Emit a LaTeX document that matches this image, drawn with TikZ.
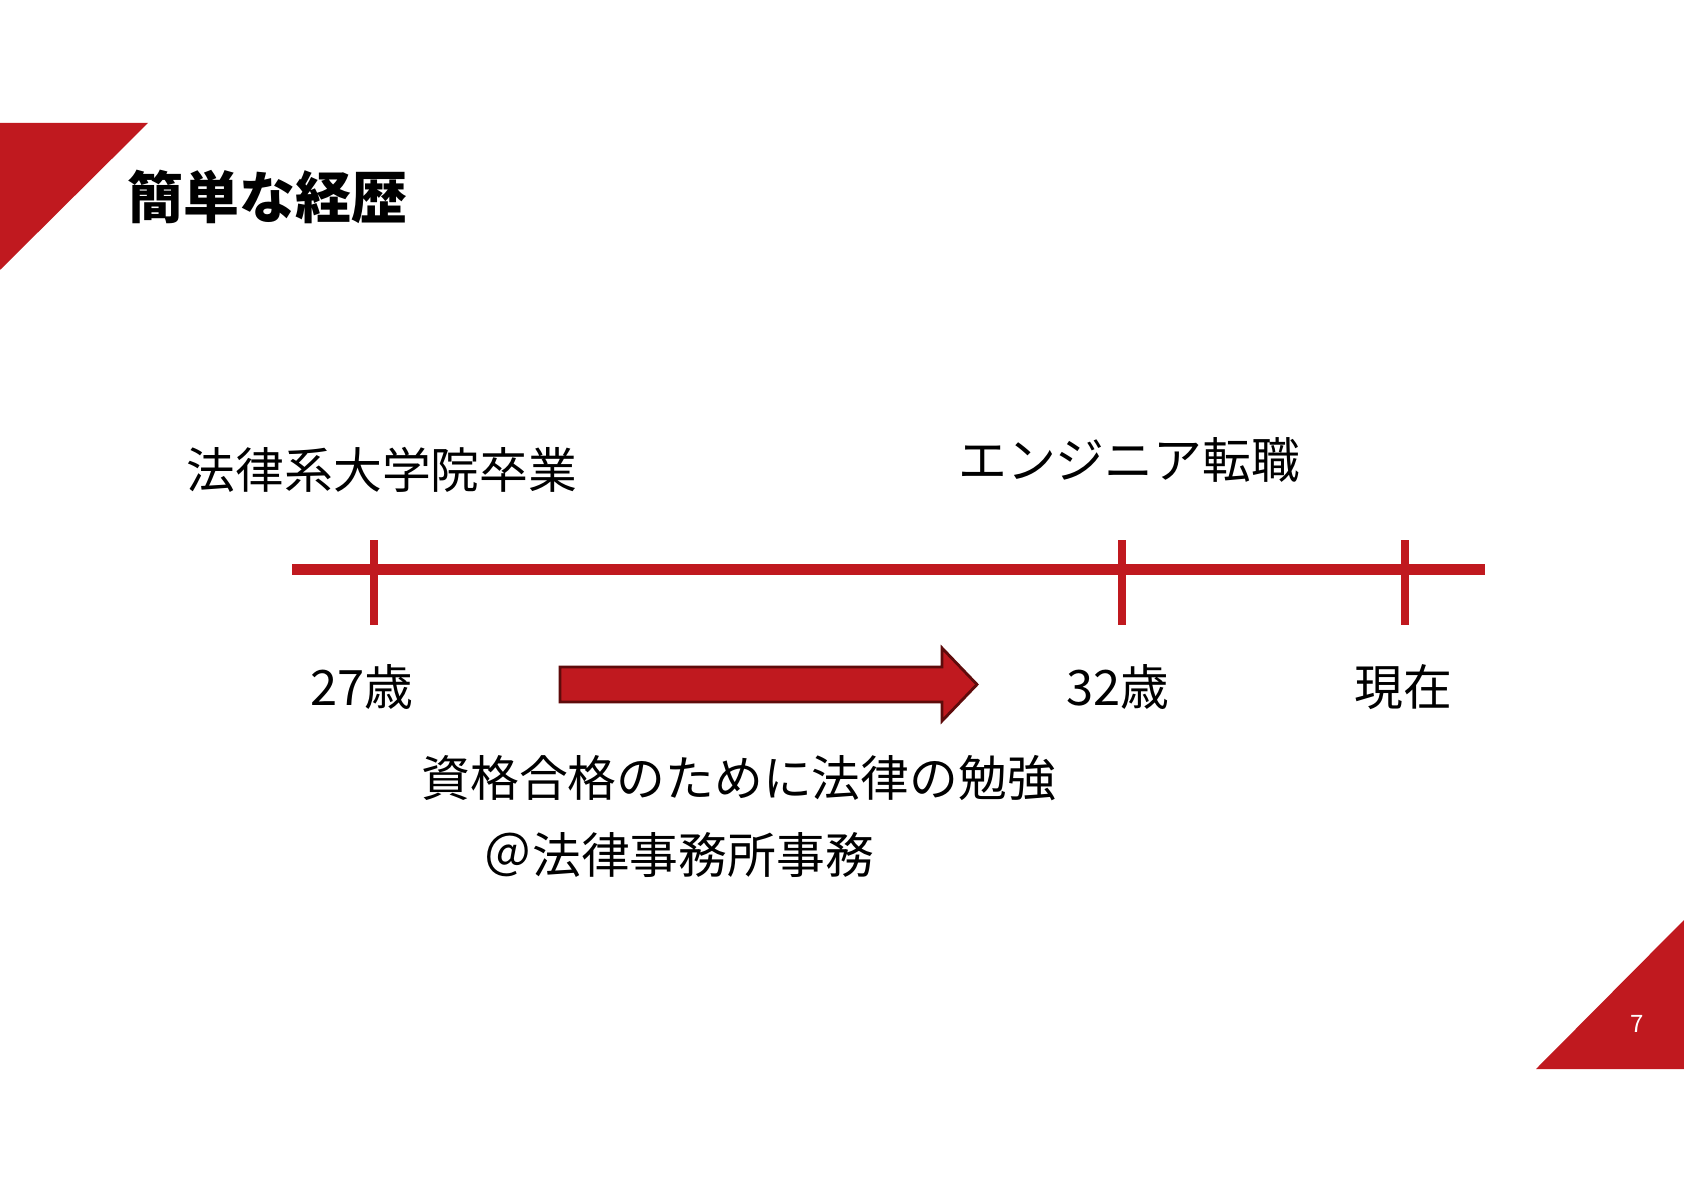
\documentclass[tikz,border=0pt]{standalone}
\usepackage{fontspec}
\setmainfont{Noto Sans CJK JP}
\usepackage{tikz}
\usetikzlibrary{positioning,calc}
\definecolor{slidered}{HTML}{C0191F}
\definecolor{slideframe}{HTML}{5E0B0B}

\begin{document}
\begin{tikzpicture}[
  x=0.5bp, y=-0.5bp,
  lbl/.style={font=\fontsize{24.4bp}{28bp}\selectfont, inner sep=0pt},
  axis/.style={draw=slidered, line width=5.3bp},
  tickmark/.style={draw=slidered, line width=4.3bp},
  bigarr/.style={fill=slidered, draw=slideframe, line width=1.4bp, line join=miter},
  ]
  \useasboundingbox[fill=white] (0,0) rectangle (1684,1191);
  % corner triangles
  \fill[slidered] (0,123) -- (148,123) -- (0,270) -- cycle;
  \fill[slidered] (1684,920) -- (1684,1069) -- (1536,1069) -- cycle;
  \node[text=white, font=\fontsize{12bp}{14bp}\selectfont, inner sep=0pt] (pageno) at (1637,1024) {7};
  \node[anchor=west, inner sep=0pt, font=\fontsize{28bp}{32bp}\selectfont\bfseries] (title) at (127,197) {簡単な経歴};

  % timeline
  \coordinate (start) at (292,569.5);
  \coordinate (stop) at (1485,569.5);
  \draw[axis] (start) -- (stop);
  \foreach \name/\x in {grad/374, eng/1122, now/1405} {
    \coordinate (\name) at (\x,569.5);
    \draw[tickmark] ($(\name)+(0,-29)$) -- ($(\name)+(0,56)$);
  }

  \node[lbl] (gradtxt) at ($(grad)+(8,-100)$) {法律系大学院卒業};
  \node[lbl] (engtxt) at ($(eng)+(7,-110)$) {エンジニア転職};
  \node[lbl] (age27) at ($(grad)+(-12,118)$) {27歳};
  \node[lbl] (age32) at ($(eng)+(-4,118)$) {32歳};
  \node[lbl] (nowtxt) at ($(now)+(-2,118)$) {現在};

  % study period
  \draw[bigarr] (560,667) -- (942,667) -- (942,648) -- (977,684.5)
    -- (942,721) -- (942,702) -- (560,702) -- cycle;
  \node[lbl, anchor=west] (study) at (421,778) {資格合格のために法律の勉強};
  \node[lbl, anchor=west] (office) at (483,855) {＠法律事務所事務};
\end{tikzpicture}
\end{document}
